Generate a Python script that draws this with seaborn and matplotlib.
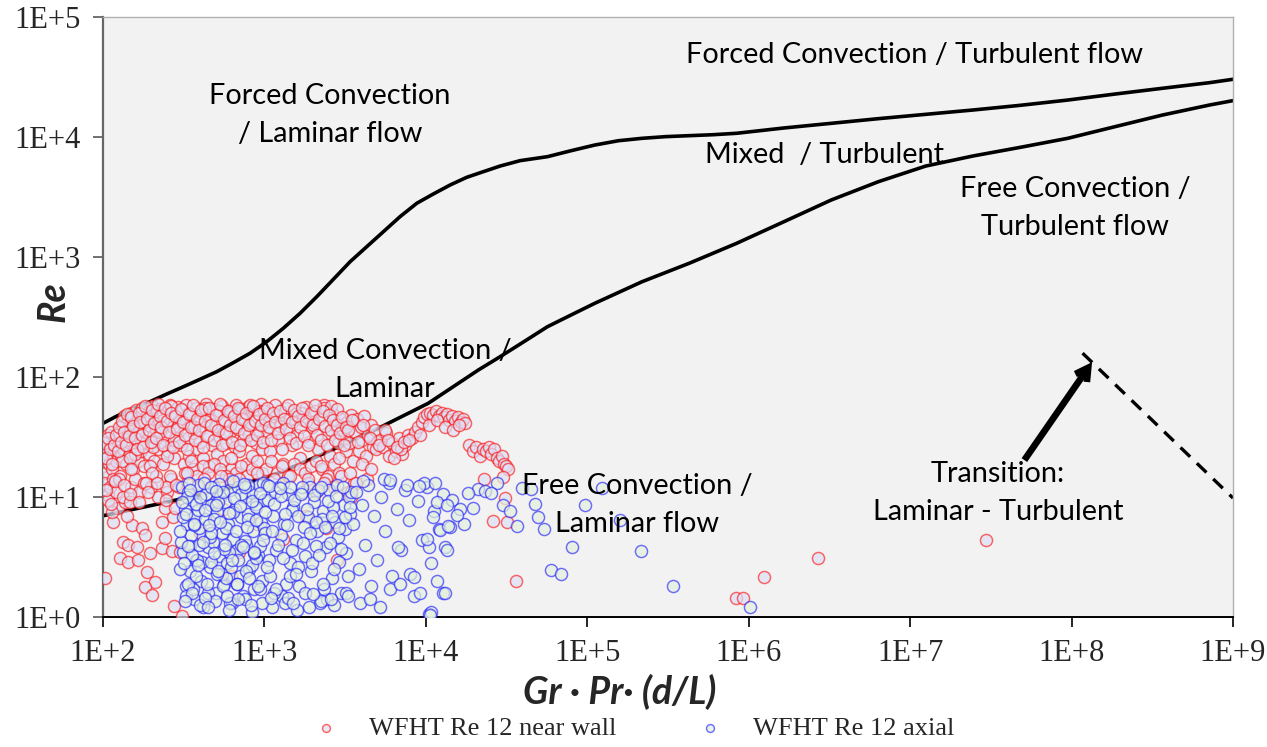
import matplotlib
matplotlib.use("Agg")
import matplotlib.pyplot as plt
from matplotlib.ticker import NullLocator, FixedLocator, FixedFormatter
import seaborn as sns

# ---------------- data ----------------
x_ticks = [1e2, 1e3, 1e4, 1e5, 1e6, 1e7, 1e8, 1e9]
x_tick_labels = ["1E+2", "1E+3", "1E+4", "1E+5", "1E+6", "1E+7", "1E+8", "1E+9"]
y_ticks = [1e0, 1e1, 1e2, 1e3, 1e4, 1e5]
y_tick_labels = ["1E+0", "1E+1", "1E+2", "1E+3", "1E+4", "1E+5"]

# boundary Forced / Mixed
upper_grpr = [100, 122, 154, 195, 248, 315, 399, 506, 641, 815,
              1033, 1309, 1663, 2109, 2673, 3396, 4305, 5458, 6918, 8790,
              11120, 14130, 17910, 22700, 28840, 38370, 56620, 79430, 111200, 156000,
              218300, 306200, 428500, 601200, 841400, 1.18e6, 1.652e6, 3.243e6, 6.368e6, 1.25e7,
              2.455e7, 4.819e7, 9.462e7, 1.858e8, 3.656e8, 7.178e8, 1e9]
upper_re = [41.1, 47.3, 54.5, 62.2, 72.1, 83.0, 95.7, 110.7, 131.5, 157.8,
            196.8, 254.7, 339.6, 466.7, 651.6, 914.1, 1219, 1626, 2168, 2805,
            3350, 3981, 4613, 5140, 5728, 6353, 6855, 7691, 8570, 9311,
            9750, 10070, 10260, 10450, 10740, 11300, 11890, 13000, 14220, 15450,
            16790, 18370, 20320, 22800, 25470, 28380, 30270]
# boundary Mixed / Free
lower_grpr = [100, 231, 597, 1219, 2489, 5082, 10350, 21130, 28840, 40460,
              56620, 79430, 111200, 218300, 428500, 841400, 1.652e6, 3.243e6, 6.368e6, 1.25e7,
              2.455e7, 4.819e7, 9.462e7, 1.858e8, 3.656e8, 7.178e8, 1e9]
lower_re = [6.98, 8.87, 11.8, 15.8, 23.9, 37.4, 60.4, 114.3, 147.6, 196.8,
            262.4, 328.9, 411.1, 622.3, 887.2, 1300, 1968, 2985, 4246, 5728,
            6950, 8204, 9750, 12190, 15240, 18490, 20090]
# laminar-turbulent transition (dashed)
transition_grpr = [1.17e8, 1e9]
transition_re = [158, 9.8]
# arrow (tail, tip)
arrow_grpr = [5.1e7, 1.34e8]
arrow_re = [20.3, 133]

near_wall_grpr = [
    100, 101, 103, 104, 106, 107, 109, 110, 112, 114,
    116, 118, 121, 124, 126, 129, 131, 133, 135, 137,
    139, 141, 143, 145, 147, 149, 151, 153, 155, 158,
    160, 162, 165, 167, 170, 172, 175, 178, 180, 183,
    186, 189, 192, 195, 198, 201, 204, 207, 211, 214,
    218, 222, 226, 230, 234, 238, 242, 247, 251, 256,
    260, 265, 270, 275, 280, 285, 290, 295, 132, 138,
    144, 150, 157, 164, 171, 179, 187, 196, 205, 215,
    226, 237, 249, 262, 276, 291, 300, 305, 310, 316,
    322, 328, 334, 340, 347, 354, 361, 368, 376, 384,
    392, 400, 408, 417, 426, 435, 445, 455, 465, 475,
    486, 497, 508, 520, 532, 544, 556, 569, 582, 596,
    610, 624, 638, 653, 668, 684, 700, 716, 733, 750,
    768, 786, 805, 824, 843, 863, 884, 905, 926, 948,
    970, 993, 320, 350, 380, 415, 450, 490, 530, 575,
    620, 670, 720, 780, 840, 900, 960, 340, 430, 520,
    610, 710, 810, 920, 365, 560, 1000, 1040, 1080, 1120,
    1160, 1210, 1260, 1310, 1360, 1420, 1480, 1540, 1600, 1670,
    1740, 1810, 1890, 1970, 2050, 2140, 2230, 2330, 2430, 2530,
    2640, 2750, 2870, 2990, 3100, 3200, 1020, 1100, 1190, 1290,
    1400, 1520, 1650, 1790, 1940, 2100, 2280, 2470, 2680, 2900,
    1060, 1250, 1450, 1700, 2000, 2350, 2600, 2800, 3050, 1850,
    2100, 2400, 2700, 3000, 3300, 3600, 2250, 2900, 3450, 3250,
    3350, 3450, 3550, 3650, 3750, 3850, 3950, 4050, 4150, 4250,
    4400, 4550, 4700, 4850, 5000, 3400, 3700, 4000, 4300, 4600,
    4900, 5200, 5450, 5700, 5950, 6200, 6500, 6800, 7100, 7400,
    7700, 5600, 6350, 7000, 8200, 8600, 9000, 9400, 9800, 10200,
    10600, 11000, 11500, 12000, 12500, 13000, 13500, 14000, 14600, 15200,
    15800, 16400, 17000, 17600, 9200, 10400, 11800, 13200, 14800, 16000,
    18500, 19500, 20500, 21500, 22500, 23500, 24500, 25500, 26500, 27500,
    28500, 29500, 30500, 31500, 32500, 23000, 31000, 30000, 26000, 32000,
    36000, 830000, 920000, 1250000, 2700000, 29500000, 103, 187, 210, 182,
    200, 275, 309, 127, 143, 165, 133, 143, 162, 195,
    232, 267, 300, 242, 115, 151, 174, 182, 232, 271,
    242, 279, 124, 137, 107, 400, 550, 700, 900, 1300,
    1800, 2400, 2800, 480, 620, 102, 107, 110, 113, 116,
    121, 127, 133, 140, 146, 150, 158, 166, 180, 198,
    212, 220, 250, 262, 295, 330, 420, 600,
    102, 105, 108, 111, 114, 117, 120, 123, 126, 129,
    132, 135, 138, 141, 144, 147, 150, 154, 158, 162,
    166, 170, 174, 178, 182, 187, 192, 197, 202, 207,
    212, 218, 224, 230, 236, 243, 250, 257, 264, 272,
    280, 288, 296, 304, 313, 322, 331, 341, 351, 361,
    372, 383, 394, 406, 418, 430, 443, 456, 470, 484,
    498, 513, 528, 544, 560, 577, 594, 612, 630, 649,
    668, 688, 709, 730, 752, 774, 797, 821, 846, 871,
    897, 924, 952, 980, 1009, 1040, 1071, 1103, 1136, 1170,
    1205, 1241, 1278, 1316, 1355, 1396, 1438, 1481, 1525, 1571,
    1618, 1666, 1716, 1768, 1821, 1875, 1931, 1989, 2049, 2110,
    2173, 2238, 2305, 2374, 2445, 2518, 2594, 2672, 2752, 2834,
    2919, 3007, 3097, 3190, 150, 200, 260, 330, 420, 540,
    700, 900, 1150, 1450, 1850, 2350, 125, 185, 245, 380,
    104, 112, 119, 134, 148, 168, 190, 215, 245, 285,
    3300, 3500, 3800, 4100, 4500, 5100, 5800, 6600, 7300, 7900,
]
near_wall_re = [
    18, 24, 16, 29, 21, 33, 19, 26, 35, 17,
    23, 30, 20, 27, 34, 22, 40, 25, 47, 31,
    19, 36, 44, 22, 28, 50, 33, 17, 41, 26,
    53, 30, 20, 46, 37, 24, 55, 29, 18, 43,
    34, 51, 23, 39, 27, 57, 32, 20, 48, 36,
    25, 44, 54, 29, 19, 40, 33, 52, 24, 45,
    58, 27, 38, 21, 49, 31, 56, 42, 20, 30,
    38, 45, 23, 35, 28, 42, 48, 18, 26, 52,
    35, 44, 22, 57, 30, 39, 45, 27, 53, 19,
    36, 58, 31, 22, 48, 40, 17, 34, 55, 25,
    43, 29, 50, 21, 38, 60, 33, 18, 46, 27,
    54, 39, 23, 49, 31, 57, 20, 42, 28, 52,
    35, 17, 47, 26, 58, 37, 24, 51, 30, 44,
    19, 56, 33, 41, 22, 53, 28, 46, 36, 59,
    25, 43, 16, 20, 15, 18, 16, 19, 17, 15,
    21, 16, 18, 15, 17, 20, 16, 50, 55, 52,
    50, 54, 58, 52, 38, 35, 52, 35, 24, 47,
    58, 30, 41, 19, 55, 37, 27, 49, 33, 21,
    44, 56, 29, 38, 52, 25, 46, 58, 34, 22,
    50, 40, 28, 45, 31, 24, 17, 20, 16, 18,
    15, 19, 17, 16, 18, 20, 17, 15, 19, 16,
    43, 39, 45, 50, 42, 55, 57, 54, 36, 13,
    11, 14, 12, 15, 11, 13, 18, 21, 10, 42,
    28, 48, 20, 35, 45, 24, 38, 30, 47, 22,
    33, 40, 26, 36, 29, 16, 13, 19, 14, 17,
    25, 30, 26, 34, 22, 28, 24, 31, 23, 27,
    33, 36, 21, 25, 31, 35, 38, 42, 46, 49,
    50, 48, 52, 47, 50, 46, 49, 44, 47, 43,
    46, 42, 45, 41, 33, 40, 44, 38, 36, 40,
    27, 24, 26, 22, 25, 24, 26, 23, 25, 21,
    20, 22, 19, 18, 17, 14, 9.8, 14.7, 6.3, 6.2,
    2.0, 1.44, 1.44, 2.15, 3.1, 4.4, 2.1, 2.37, 1.96, 1.78,
    1.52, 1.23, 1.02, 3.1, 2.9, 3.0, 4.2, 4.0, 3.8, 3.4,
    3.76, 3.55, 3.5, 4.55, 6.2, 5.8, 5.5, 4.8, 6.2, 6.8,
    8.1, 8.1, 8.1, 9.1, 10.4, 5, 8, 3.5, 6, 4.5,
    7, 5.5, 3, 9, 2.2, 13, 9.5, 12, 7.5, 14,
    11, 15, 10, 7, 9, 12, 14, 11, 13, 12,
    15, 10, 11, 14, 12, 13, 12, 14,
    28, 21, 31, 25, 19, 27, 33, 24, 38, 29,
    43, 35, 27, 49, 32, 21, 46, 39, 31, 25,
    50, 42, 33, 26, 57, 45, 36, 29, 53, 41,
    31, 59, 47, 38, 27, 55, 43, 35, 50, 26,
    47, 37, 29, 54, 42, 33, 25, 49, 38, 58,
    30, 45, 36, 53, 26, 43, 32, 55, 40, 30,
    48, 36, 59, 27, 44, 34, 52, 40, 29, 47,
    38, 55, 27, 45, 34, 50, 40, 30, 57, 43,
    33, 49, 40, 29, 45, 55, 38, 30, 50, 42,
    34, 52, 25, 45, 37, 58, 31, 42, 53, 28,
    47, 38, 55, 32, 43, 27, 50, 40, 58, 33,
    45, 30, 52, 39, 27, 48, 36, 44, 30, 40,
    34, 46, 27, 38, 17, 16, 15, 16, 14, 15,
    14, 16, 14, 15, 14, 13, 14, 13, 12, 12,
    11.5, 8.8, 13.5, 12.5, 10.5, 9, 11, 13, 9.5, 12.5,
    36, 44, 29, 40, 31, 27, 30, 26, 29, 30,
]

axial_grpr = [
    310, 315, 320, 326, 332, 338, 344, 350, 357, 364,
    371, 378, 386, 394, 402, 410, 419, 428, 437, 447,
    457, 467, 477, 488, 499, 510, 522, 534, 546, 559,
    572, 585, 599, 613, 627, 642, 657, 672, 688, 704,
    720, 737, 754, 772, 790, 808, 827, 846, 866, 886,
    907, 928, 950, 972, 995, 312, 330, 348, 368, 390,
    412, 436, 460, 486, 514, 543, 574, 606, 640, 676,
    714, 754, 796, 840, 888, 938, 990, 325, 360, 400,
    445, 495, 550, 610, 680, 755, 840, 935, 340, 420,
    520, 640, 790, 980, 305, 380, 470, 580, 720, 890,
    1010, 1050, 1090, 1130, 1180, 1230, 1280, 1330, 1390, 1450,
    1510, 1570, 1640, 1710, 1780, 1860, 1940, 2020, 2110, 2200,
    2300, 2400, 2500, 2610, 2720, 2840, 2960, 3090, 3220, 3360,
    1070, 1160, 1260, 1370, 1490, 1620, 1760, 1910, 2080, 2260,
    2450, 2660, 2890, 3140, 3400, 1120, 1350, 1600, 1900, 2250,
    2700, 3200, 1030, 1300, 1700, 2150, 2800, 3450, 1450, 2350,
    3550, 3700, 3850, 4000, 4200, 4400, 4600, 4800, 5000, 5300,
    5600, 5900, 6200, 6600, 7000, 7400, 7900, 8400, 8900, 9500,
    10100, 10700, 11300, 12000, 12700, 3900, 4500, 5200, 6000, 6900,
    8000, 9200, 10500, 11800, 4100, 5500, 7600, 9800, 10500, 10800,
    6000, 9100, 11400, 11800, 11100, 12200, 13100, 12700, 10600, 8500,
    6700, 10100, 27500, 21000, 23400, 25300, 18200, 30200, 33300, 36700,
    47600, 49300, 54000, 39500, 44500, 97000, 124000, 159000, 80000, 60000,
    69000, 19600, 17200, 14100, 13500, 13100, 214000, 340000, 1020000, 14500,
    16300, 15600, 13500, 13800, 300, 335, 355, 375, 395, 430,
    465, 505, 560, 620, 690, 770, 860, 960, 1150, 1400,
    302, 308, 318, 328, 336, 346, 355, 366, 377, 389,
    401, 414, 427, 441, 455, 470, 485, 501, 517, 534,
    551, 569, 587, 606, 626, 646, 667, 688, 710, 733,
    757, 781, 806, 832, 859, 887, 916, 945, 976, 1008,
    1040, 1075, 1110, 1145, 1182, 1220, 1260, 1300, 1343, 1386,
    1431, 1477, 1525, 1574, 1625, 1678, 1732, 1788, 1846, 1906,
    1968, 2031, 2097, 2165, 2235, 2307, 2382, 2459, 2539, 2621,
    2706, 2793, 2884, 2977, 3074, 3173, 3276, 3382, 320, 450,
    600, 820, 1100, 1500, 2000, 2600, 3300, 500, 750, 1250,
]
axial_re = [
    12, 3.5, 8, 1.8, 6, 11, 2.4, 4.8, 9.5, 1.4,
    7, 3, 12.5, 5.5, 2, 9, 1.2, 6.5, 10.5, 3.8,
    2.6, 8.5, 4.2, 12, 1.6, 7.5, 3.2, 10, 5, 1.9,
    9, 2.8, 6, 11.5, 1.3, 4.5, 8, 3.6, 12, 2.2,
    6.8, 1.5, 10, 4, 7.2, 2.5, 11, 5.2, 1.7, 8.8,
    3.3, 12.5, 6.2, 2, 9.5, 6.8, 10, 3.9, 5.8, 7.8,
    2.9, 10.5, 4.6, 6.5, 9, 2.3, 5.5, 3.5, 7.5, 1.9,
    10.5, 4.3, 6.6, 2.7, 8.2, 3.9, 5.5, 1.5, 1.7, 1.25,
    1.6, 1.35, 1.8, 1.3, 1.9, 1.4, 1.1, 1.7, 13, 13,
    12.8, 13.5, 12.5, 13, 4.2, 3, 5, 2.1, 4, 3.1,
    5, 9.5, 2.2, 7, 3.6, 12, 1.5, 6, 10.5, 2.8,
    8.2, 4.4, 1.8, 11, 3.2, 6.8, 2.4, 9, 5.2, 1.3,
    7.6, 3.8, 11.5, 2.1, 6.2, 4.6, 1.6, 8.6, 3.4, 10,
    3, 11, 4.8, 1.9, 7.8, 2.6, 5.6, 12, 3.9, 6.6,
    1.4, 8.2, 2.9, 5.4, 7.2, 1.2, 1.3, 1.15, 1.2, 1.35,
    1.25, 1.6, 12.5, 13, 12, 11.5, 12.5, 11, 2.2, 1.7,
    6, 11, 2.5, 8.5, 4, 12.5, 1.8, 7, 3, 10,
    5.2, 13, 2.2, 8, 3.6, 11.5, 6.4, 1.5, 9.2, 4.4,
    12, 2.8, 7.6, 5.4, 10.5, 1.3, 1.4, 1.2, 1.7, 1.9,
    2.3, 1.6, 3.8, 2.0, 13.5, 14, 12.5, 13, 1.05, 1.1,
    13.8, 12.3, 13, 9.1, 6.8, 5.3, 3.8, 1.6, 1.04, 2.15,
    3.8, 4.5, 13.1, 11.7, 11.2, 10.8, 10.8, 8.6, 7.6, 5.7,
    8.7, 6.8, 5.4, 11.9, 11.7, 8.6, 11.9, 6.4, 3.8, 2.46,
    2.3, 8.1, 5.95, 5.6, 3.6, 1.6, 3.55, 1.8, 1.2, 9.5,
    7.9, 7.1, 8.6, 5.7, 2.5, 1.9, 3.3, 2.2, 4, 1.45,
    2.9, 2.3, 3.7, 2.6, 3, 2.4, 3.4, 1.3, 1.6, 1.45,
    5.2, 9, 2.8, 7.2, 3.9, 11.5, 1.6, 6, 8.8, 2.7,
    10, 4.2, 7.8, 1.9, 5.8, 12.2, 3.4, 8.5, 2.4, 6.2,
    11, 4, 1.5, 7.4, 3, 9.8, 5.2, 1.4, 8.4, 3.8,
    12, 5.6, 2.1, 9.2, 3.5, 6.4, 1.8, 10.8, 4.4, 7.5,
    2.6, 12.3, 5.2, 8.7, 1.7, 4, 10.2, 3.1, 7.2, 5.8,
    12, 3.6, 9.4, 2.3, 6.9, 10.6, 4.1, 1.6, 8, 5,
    2.8, 10.4, 6.2, 3.3, 12, 1.9, 5.6, 9.3, 4.1, 7,
    2.5, 10.2, 5.5, 3.7, 12.1, 6.8, 2.2, 8.3, 1.35, 1.2,
    1.15, 1.25, 1.45, 1.3, 1.55, 1.4, 1.5, 11.2, 12.8, 11.8,
]

series_labels = ["WFHT Re 12 near wall", "WFHT Re 12 axial"]

region_texts = [
    "Forced Convection / Turbulent flow",
    "Forced Convection\n/ Laminar flow",
    "Mixed  / Turbulent",
    "Free Convection /\nTurbulent flow",
    "Mixed Convection /\nLaminar",
    "Free Convection /\nLaminar flow",
    "Transition:\nLaminar - Turbulent",
]
region_text_grpr = [1.07e7, 2550, 2.96e6, 1.05e8, 5580, 2.04e5, 3.5e7]
region_text_re = [48000, 15200, 7070, 2560, 114, 8.6, 10.8]

# ---------------- plot ----------------
sns.set_theme(style="white")
plt.rcParams["font.family"] = ["Lato", "DejaVu Sans"]

W, H = 1267, 747
fig = plt.figure(figsize=(W / 100, H / 100), dpi=100)
fig.patch.set_facecolor("white")
ax = fig.add_axes([103 / W, 1 - 617 / H, 1130 / W, 600 / H])
ax.set_facecolor("#f2f2f2")
ax.set_xscale("log")
ax.set_yscale("log")

line_kw = dict(ax=ax, color="black", sort=False, estimator=None, legend=False)
sns.lineplot(x=upper_grpr, y=upper_re, linewidth=2.6, zorder=2, **line_kw)
sns.lineplot(x=lower_grpr, y=lower_re, linewidth=2.6, zorder=2, **line_kw)
sns.lineplot(x=transition_grpr, y=transition_re, linewidth=2.4,
             linestyle=(0, (4.0, 2.8)), zorder=2, **line_kw)

ax.annotate("", xy=(arrow_grpr[1], arrow_re[1]), xytext=(arrow_grpr[0], arrow_re[0]),
            arrowprops=dict(arrowstyle="->,head_length=0.75,head_width=0.42",
                            lw=4.8, color="black", shrinkA=0, shrinkB=0,
                            joinstyle="miter", capstyle="butt"),
            zorder=4)

sns.scatterplot(x=near_wall_grpr, y=near_wall_re, ax=ax, s=76, marker="o",
                facecolor=(0.87, 0.88, 0.96, 0.7), edgecolor=(1.0, 0.05, 0.05, 0.62),
                linewidth=1.05, label=series_labels[0], zorder=3)
sns.scatterplot(x=axial_grpr, y=axial_re, ax=ax, s=76, marker="o",
                facecolor=(0.89, 0.94, 0.87, 0.7), edgecolor=(0.1, 0.1, 1.0, 0.62),
                linewidth=1.05, label=series_labels[1], zorder=3)

for txt, gx, ry in zip(region_texts, region_text_grpr, region_text_re):
    ax.text(gx, ry, txt, ha="center", va="center", fontsize=20.8,
            linespacing=1.58, color="black", zorder=5)

ax.set_xlim(1e2, 1e9)
ax.set_ylim(1e0, 1e5)
ax.xaxis.set_major_locator(FixedLocator(x_ticks))
ax.xaxis.set_major_formatter(FixedFormatter(x_tick_labels))
ax.yaxis.set_major_locator(FixedLocator(y_ticks))
ax.yaxis.set_major_formatter(FixedFormatter(y_tick_labels))
ax.xaxis.set_minor_locator(NullLocator())
ax.yaxis.set_minor_locator(NullLocator())
ax.tick_params(axis="x", direction="out", length=7, width=1.2, color="black",
               pad=9, bottom=True)
ax.tick_params(axis="y", direction="out", length=7, width=1.2, color="#595959",
               pad=9, left=True)
for lab in ax.get_xticklabels() + ax.get_yticklabels():
    lab.set_fontfamily("Liberation Serif")
    lab.set_fontsize(22)
ax.set_xlabel("")
ax.set_ylabel("")

for side in ["top", "right"]:
    ax.spines[side].set_color("#b0b0b0")
    ax.spines[side].set_linewidth(1.0)
ax.spines["left"].set_color("#666666")
ax.spines["left"].set_linewidth(1.6)
ax.spines["bottom"].set_color("black")
ax.spines["bottom"].set_linewidth(1.4)

fig.text(620 / W, 1 - 692 / H, "Gr · Pr· (d/L)", ha="center", va="center",
         fontsize=27, fontweight="bold", fontstyle="italic")
fig.text(53 / W, 1 - 302 / H, "Re", ha="center", va="center", rotation=90,
         fontsize=27, fontweight="bold", fontstyle="italic")

handles, labels = ax.get_legend_handles_labels()
if ax.get_legend() is not None:
    ax.get_legend().remove()
fig.legend(handles, labels, loc="center", bbox_to_anchor=(627 / W, 1 - 728 / H),
           ncol=2, frameon=False, prop={"family": "Liberation Serif", "size": 19},
           markerscale=0.65, handletextpad=0.65, columnspacing=2.52, handlelength=2.0)

fig.savefig("out.png", dpi=100, facecolor="white")
